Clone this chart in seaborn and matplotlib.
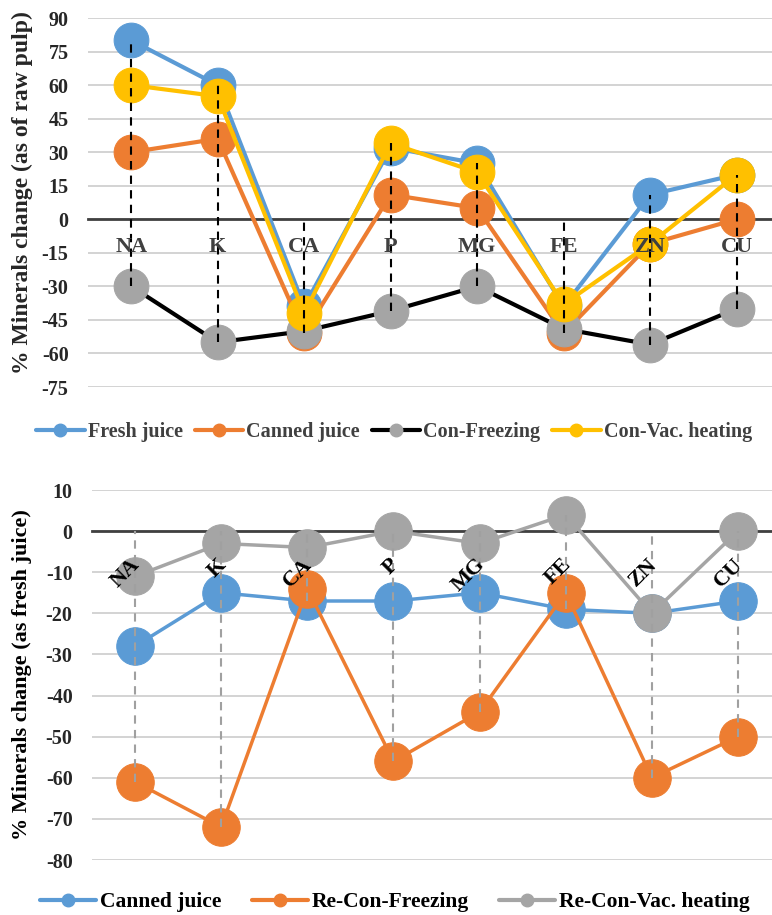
import numpy as np
import pandas as pd
import matplotlib
matplotlib.use("Agg")
import matplotlib.pyplot as plt
from matplotlib.lines import Line2D
from matplotlib.transforms import ScaledTranslation
import seaborn as sns

minerals = ["NA", "K", "CA", "P", "MG", "FE", "ZN", "CU"]

# top panel: % minerals change, as of raw pulp
fresh_juice = [80, 60, -39, 32, 25, -39, 11, 20]
canned_juice = [30, 36, -51, 11, 5, -51, -11, 0]
con_freezing = [-30, -55, -50, -41, -30, -49, -56, -40]
con_vac_heating = [60, 55, -42, 34, 21, -38, -11, 20]

# bottom panel: % minerals change, as fresh juice
canned_vs_fresh = [-28, -15, -17, -17, -15, -19, -20, -17]
re_con_freezing = [-61, -72, -14, -56, -44, -15, -60, -50]
re_con_vac_heating = [-11, -3, -4, 0, -3, 4, -20, 0]

top_series = {
    "Fresh juice": (fresh_juice, "#5B9BD5", "#5B9BD5"),
    "Canned juice": (canned_juice, "#ED7D31", "#ED7D31"),
    "Con-Freezing": (con_freezing, "#000000", "#A5A5A5"),
    "Con-Vac. heating": (con_vac_heating, "#FFC000", "#FFC000"),
}
bottom_series = {
    "Canned juice": (canned_vs_fresh, "#5B9BD5", "#5B9BD5"),
    "Re-Con-Freezing": (re_con_freezing, "#ED7D31", "#ED7D31"),
    "Re-Con-Vac. heating": (re_con_vac_heating, "#A5A5A5", "#A5A5A5"),
}

sns.set_theme(style="white")
plt.rcParams["font.family"] = ["Liberation Serif", "DejaVu Serif"]
plt.rcParams["font.weight"] = "bold"
plt.rcParams["axes.unicode_minus"] = False

W, H = 772, 915
fig = plt.figure(figsize=(W / 100, H / 100), dpi=100)


def draw_panel(ax, series, ylim, step, ms, lw, drop_color, xlim_right):
    pos = np.arange(len(minerals))
    df = pd.DataFrame({"pos": pos})
    for i, (name, (vals, lc, mc)) in enumerate(series.items()):
        df[name] = vals
        sns.lineplot(data=df, x="pos", y=name, ax=ax, color=lc, lw=lw,
                     marker="o", markersize=ms, markerfacecolor=mc,
                     markeredgecolor=mc, zorder=3 + i)
    allv = df[list(series.keys())].values
    lo = np.minimum(allv.min(axis=1), 0)
    hi = np.maximum(allv.max(axis=1), 0)
    ax.vlines(pos, lo, hi, colors=drop_color, linestyles=(0, (4, 3)),
              lw=1.5, zorder=10)
    ax.set_xlim(-0.5, xlim_right)
    ax.set_ylim(*ylim)
    ax.set_yticks(np.arange(ylim[0], ylim[1] + 1, step))
    ax.set_xticks(pos)
    ax.grid(axis="y", color="#d0d0d0", lw=1.3)
    ax.grid(axis="x", visible=False)
    ax.set_axisbelow(True)
    # category labels sit on top of the markers, as in the original
    ax.xaxis.set_zorder(20)
    for s in ["left", "right", "top"]:
        ax.spines[s].set_visible(False)
    ax.spines["bottom"].set_position(("data", 0))
    ax.spines["bottom"].set_color("#404040")
    ax.spines["bottom"].set_linewidth(2)
    ax.spines["bottom"].set_zorder(2)
    ax.set_xlabel("")
    ax.set_ylabel("")
    ax.tick_params(axis="y", length=0, pad=14, labelsize=14.5, labelcolor="#262626")
    for t in ax.get_yticklabels():
        t.set_fontweight("bold")


# top chart
ax1 = fig.add_axes([88 / W, 1 - 387 / H, 684 / W, 369 / H])
draw_panel(ax1, top_series, (-75, 90), 15, 25, 3, "#000000", 7.41)
ax1.set_xticklabels(minerals, fontweight="bold")
ax1.tick_params(axis="x", length=0, pad=13, labelsize=16, labelcolor="#404040")
fig.text(22 / W, 1 - 193 / H, "% Minerals change (as of raw pulp)", rotation=90,
         ha="center", va="center", fontsize=17, fontweight="bold", color="#262626")

h1 = [Line2D([], [], color=lc, lw=3, marker="o", markersize=9,
             markerfacecolor=mc, markeredgecolor=mc)
      for vals, lc, mc in top_series.values()]
fig.legend(h1, list(top_series.keys()), loc="center", bbox_to_anchor=(394 / W, 1 - 432 / H),
           ncol=4, frameon=False, handlelength=2.4, handletextpad=0.15,
           columnspacing=0.6, prop={"size": 14.5, "weight": "bold"}, labelcolor="#404040")

# bottom chart
ax2 = fig.add_axes([92 / W, 1 - 860 / H, 680 / W, 370 / H])
draw_panel(ax2, bottom_series, (-80, 10), 10, 27, 2.5, "#A0A0A0", 7.395)
ax2.set_xticklabels(minerals, fontweight="bold", rotation=45, ha="right",
                    rotation_mode="anchor", va="top")
ax2.tick_params(axis="x", length=0, pad=17, labelsize=16, labelcolor="#000000")
shift = ScaledTranslation(-5 / 100, 0, fig.dpi_scale_trans)
for lab in ax2.get_xticklabels():
    lab.set_transform(lab.get_transform() + shift)
fig.text(22 / W, 1 - 675 / H, "% Minerals change (as fresh juice)", rotation=90,
         ha="center", va="center", fontsize=16, fontweight="bold", color="#000000")

h2 = [Line2D([], [], color=lc, lw=3, marker="o", markersize=9,
             markerfacecolor=mc, markeredgecolor=mc)
      for vals, lc, mc in bottom_series.values()]
fig.legend(h2, list(bottom_series.keys()), loc="center", bbox_to_anchor=(395 / W, 1 - 902 / H),
           ncol=3, frameon=False, handlelength=2.6, handletextpad=0.2,
           columnspacing=1.4, prop={"size": 15.5, "weight": "bold"}, labelcolor="#000000")

fig.savefig("out.png", dpi=100)
